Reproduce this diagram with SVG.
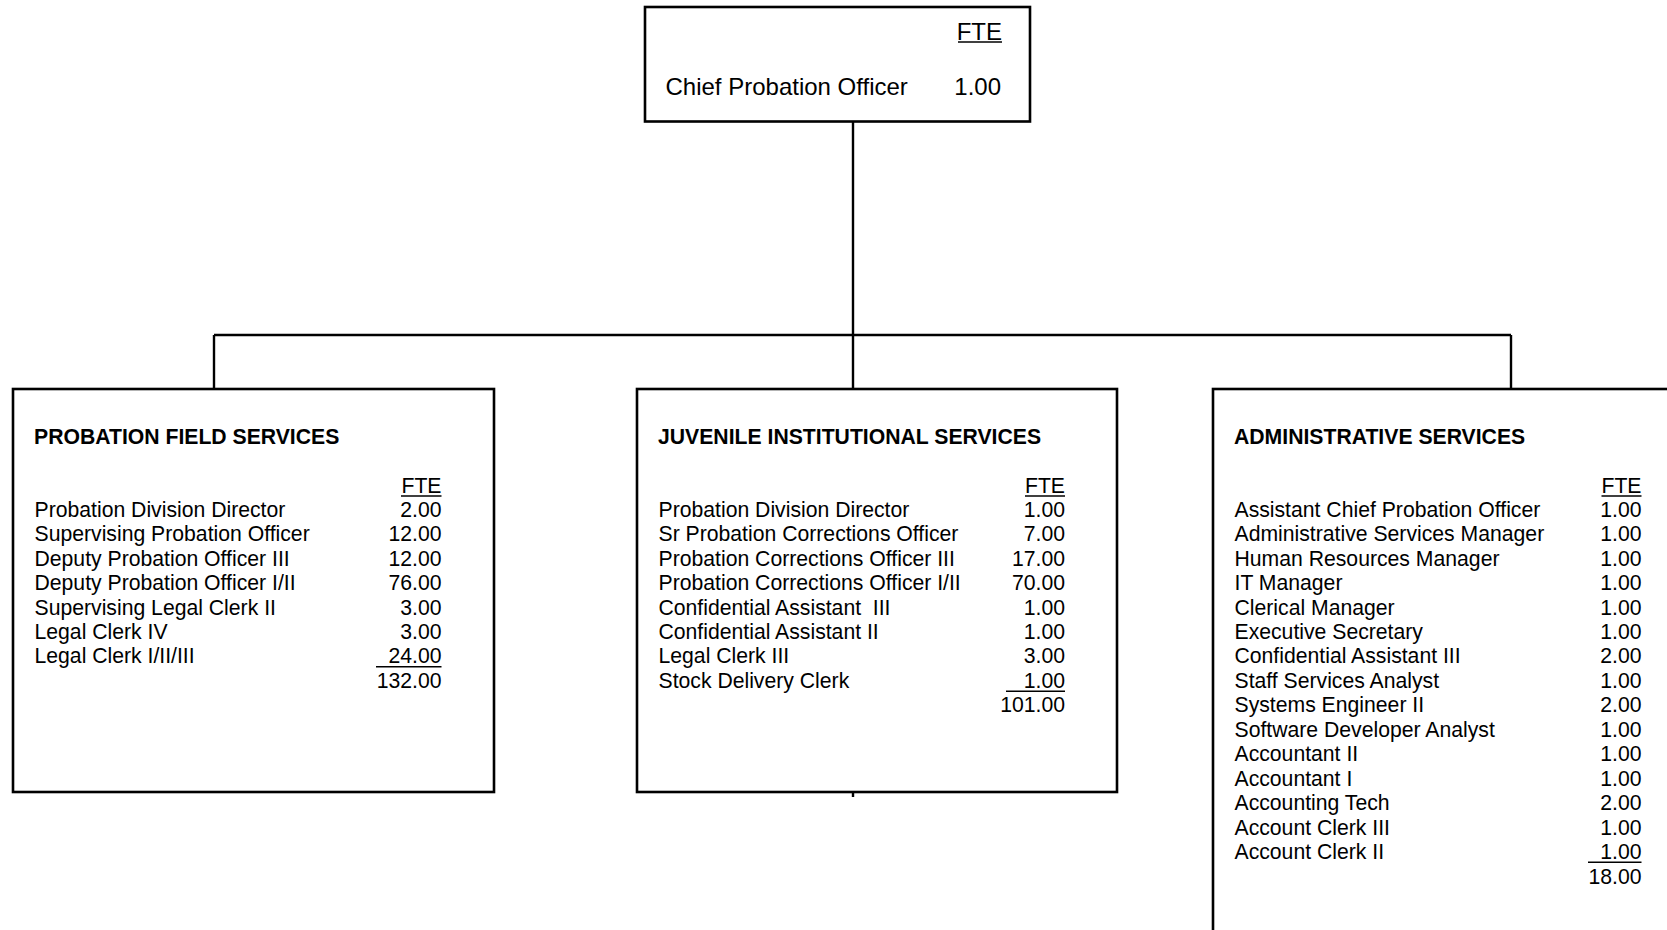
<svg xmlns="http://www.w3.org/2000/svg" width="1667" height="930" viewBox="0 0 1667 930">
<style>
.box{fill:#fff;stroke:#000;stroke-width:2.6}
.conn{stroke:#000;stroke-width:2.4;fill:none}
.ul{stroke:#000;stroke-width:1.6}
text{font-family:"Liberation Sans",Arial,sans-serif;fill:#000;white-space:pre}
.t{font-size:21.2px}
.top{font-size:24px}
.h{font-size:21.2px;font-weight:bold}
.r{text-anchor:end}
</style>
<rect width="1667" height="930" fill="#fff"/>
<g id="connectors">
<line class="conn" x1="853" y1="121" x2="853" y2="389"/>
<line class="conn" x1="214" y1="335" x2="1511" y2="335"/>
<line class="conn" x1="214" y1="335" x2="214" y2="389"/>
<line class="conn" x1="1511" y1="335" x2="1511" y2="389"/>
<line class="conn" x1="853" y1="792" x2="853" y2="797"/>
</g>
<g id="chief">
<rect class="box" x="645" y="7" width="385" height="114.5"/>
<text class="top r" x="1002" y="39.5">FTE</text>
<line class="ul" x1="958" y1="42" x2="1002" y2="42"/>
<text class="top" x="665.5" y="95">Chief Probation Officer</text>
<text class="top r" x="1001" y="95">1.00</text>
</g>
<g id="field">
<rect class="box" x="13" y="389" width="481" height="403"/>
<text class="h" x="34" y="444">PROBATION FIELD SERVICES</text>
<text class="t r" x="441.5" y="493">FTE</text>
<line class="ul" x1="401" y1="496" x2="441.5" y2="496"/>
<g class="t">
<text x="34.5" y="516.7">Probation Division Director</text>
<text x="34.5" y="541.2">Supervising Probation Officer</text>
<text x="34.5" y="565.6">Deputy Probation Officer III</text>
<text x="34.5" y="590.1">Deputy Probation Officer I/II</text>
<text x="34.5" y="614.5">Supervising Legal Clerk II</text>
<text x="34.5" y="639">Legal Clerk IV</text>
<text x="34.5" y="663.4">Legal Clerk I/II/III</text>
</g>
<g class="t r">
<text x="441.5" y="516.7">2.00</text>
<text x="441.5" y="541.2">12.00</text>
<text x="441.5" y="565.6">12.00</text>
<text x="441.5" y="590.1">76.00</text>
<text x="441.5" y="614.5">3.00</text>
<text x="441.5" y="639">3.00</text>
<text x="441.5" y="663.4">24.00</text>
<text x="441.5" y="687.9">132.00</text>
</g>
<line class="ul" x1="376" y1="666.7" x2="441.5" y2="666.7"/>
</g>
<g id="juvenile">
<rect class="box" x="637" y="389" width="480" height="403"/>
<text class="h" x="658" y="444">JUVENILE INSTITUTIONAL SERVICES</text>
<text class="t r" x="1065" y="493">FTE</text>
<line class="ul" x1="1025" y1="496" x2="1065" y2="496"/>
<g class="t">
<text x="658.5" y="516.7">Probation Division Director</text>
<text x="658.5" y="541.2">Sr Probation Corrections Officer</text>
<text x="658.5" y="565.6">Probation Corrections Officer III</text>
<text x="658.5" y="590.1">Probation Corrections Officer I/II</text>
<text x="658.5" y="614.5">Confidential Assistant  III</text>
<text x="658.5" y="639">Confidential Assistant II</text>
<text x="658.5" y="663.4">Legal Clerk III</text>
<text x="658.5" y="687.9">Stock Delivery Clerk</text>
</g>
<g class="t r">
<text x="1065" y="516.7">1.00</text>
<text x="1065" y="541.2">7.00</text>
<text x="1065" y="565.6">17.00</text>
<text x="1065" y="590.1">70.00</text>
<text x="1065" y="614.5">1.00</text>
<text x="1065" y="639">1.00</text>
<text x="1065" y="663.4">3.00</text>
<text x="1065" y="687.9">1.00</text>
<text x="1065" y="712.3">101.00</text>
</g>
<line class="ul" x1="1006" y1="691.2" x2="1065" y2="691.2"/>
</g>
<g id="admin">
<rect class="box" x="1213" y="389" width="500" height="600"/>
<text class="h" x="1234" y="444">ADMINISTRATIVE SERVICES</text>
<text class="t r" x="1641.5" y="493">FTE</text>
<line class="ul" x1="1601.5" y1="496" x2="1641.5" y2="496"/>
<g class="t">
<text x="1234.5" y="516.7">Assistant Chief Probation Officer</text>
<text x="1234.5" y="541.2">Administrative Services Manager</text>
<text x="1234.5" y="565.6">Human Resources Manager</text>
<text x="1234.5" y="590.1">IT Manager</text>
<text x="1234.5" y="614.5">Clerical Manager</text>
<text x="1234.5" y="639">Executive Secretary</text>
<text x="1234.5" y="663.4">Confidential Assistant III</text>
<text x="1234.5" y="687.9">Staff Services Analyst</text>
<text x="1234.5" y="712.3">Systems Engineer II</text>
<text x="1234.5" y="736.8">Software Developer Analyst</text>
<text x="1234.5" y="761.2">Accountant II</text>
<text x="1234.5" y="785.7">Accountant I</text>
<text x="1234.5" y="810.1">Accounting Tech</text>
<text x="1234.5" y="834.6">Account Clerk III</text>
<text x="1234.5" y="859">Account Clerk II</text>
</g>
<g class="t r">
<text x="1641.5" y="516.7">1.00</text>
<text x="1641.5" y="541.2">1.00</text>
<text x="1641.5" y="565.6">1.00</text>
<text x="1641.5" y="590.1">1.00</text>
<text x="1641.5" y="614.5">1.00</text>
<text x="1641.5" y="639">1.00</text>
<text x="1641.5" y="663.4">2.00</text>
<text x="1641.5" y="687.9">1.00</text>
<text x="1641.5" y="712.3">2.00</text>
<text x="1641.5" y="736.8">1.00</text>
<text x="1641.5" y="761.2">1.00</text>
<text x="1641.5" y="785.7">1.00</text>
<text x="1641.5" y="810.1">2.00</text>
<text x="1641.5" y="834.6">1.00</text>
<text x="1641.5" y="859">1.00</text>
<text x="1641.5" y="883.5">18.00</text>
</g>
<line class="ul" x1="1588" y1="862.3" x2="1641.5" y2="862.3"/>
</g>
</svg>
